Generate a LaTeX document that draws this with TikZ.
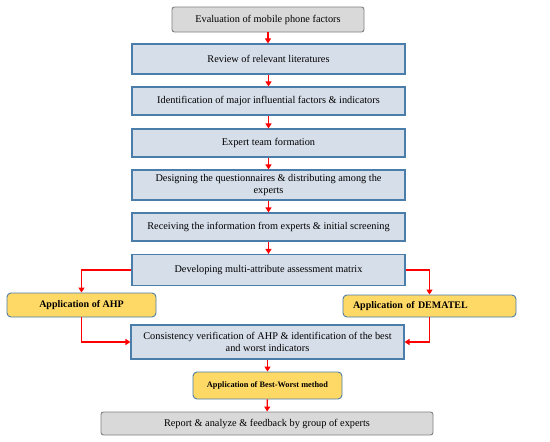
\documentclass[tikz,border=0pt]{standalone}
\usepackage{fontspec}
\setmainfont{Liberation Serif}
\usetikzlibrary{arrows.meta}
\definecolor{stepfill}{HTML}{D6DEE9}
\definecolor{stepline}{HTML}{4A7DAA}
\definecolor{endfill}{HTML}{D9D9D9}
\definecolor{endline}{HTML}{7F7F7F}
\definecolor{methfill}{HTML}{FFD966}
\definecolor{flowred}{HTML}{FF0000}

\begin{document}
\begin{tikzpicture}[x=1pt, y=-1pt,
    stepbox/.style={rectangle, draw=stepline, fill=stepfill, line width=1.1pt, align=center, inner sep=1pt, font=\fontsize{10.3}{12}\selectfont},
    endbox/.style={rectangle, rounded corners=2.5pt, draw=endline, fill=endfill, line width=0.9pt, align=center, inner sep=1pt, font=\fontsize{10.3}{12}\selectfont},
    methbox/.style={rectangle, rounded corners=4pt, draw=stepline, fill=methfill, line width=0.9pt, align=center, inner sep=1pt, font=\bfseries\fontsize{10}{12}\selectfont},
    flow/.style={draw=flowred, line width=1.4pt, -{Triangle[width=6pt,length=5pt]}}]
    \useasboundingbox (0,0) rectangle (550,442);

    \node at (268, 19.5) [endbox, minimum width=192pt, minimum height=25pt] (eval) {Evaluation of mobile phone factors};
    \node at (268.5, 59) [stepbox, minimum width=273pt, minimum height=30pt] (review) {Review of relevant literatures};
    \node at (268.5, 101) [stepbox, minimum width=273pt, minimum height=28pt] (ident) {Identification of major influential factors \& indicators};
    \node at (268.5, 143) [stepbox, minimum width=273pt, minimum height=28pt] (team) {Expert team formation};
    \node at (268.5, 185) [stepbox, minimum width=273pt, minimum height=30pt] (design) {Designing the questionnaires \& distributing among the\\experts};
    \node at (268.5, 227) [stepbox, minimum width=273pt, minimum height=28pt] (receive) {Receiving the information from experts \& initial screening};
    \node at (268.5, 270) [stepbox, minimum width=273pt, minimum height=31pt] (develop) {Developing multi-attribute assessment matrix};
    \node at (81.5, 305) [methbox, minimum width=149pt, minimum height=24pt] (ahp) {Application of AHP};
    \node at (429.5, 306) [methbox, minimum height=22pt, text width=153pt, inner xsep=10pt, align=left] (dematel) {Application of DEMATEL};
    \node at (267.5, 342) [stepbox, minimum width=273pt, minimum height=34pt] (consist) {Consistency verification of AHP \& identification of the best\\and worst indicators};
    \node at (267.5, 385.5) [methbox, minimum width=149pt, minimum height=27pt, font=\bfseries\fontsize{8.3}{10}\selectfont] (bwm) {Application of Best-Worst method};
    \node at (267, 423.5) [endbox, minimum width=332pt, minimum height=23pt] (report) {Report \& analyze \& feedback by group of experts};

    \draw[flow] (eval.south) -- (eval.south |- review.north);
    \draw[flow] (review) -- (ident);
    \draw[flow] (ident) -- (team);
    \draw[flow] (team) -- (design);
    \draw[flow] (design) -- (receive);
    \draw[flow] (receive) -- (develop);
    \draw[flow] (develop.west) -| (ahp.north);
    \draw[flow] (develop.east) -| (dematel.north);
    \draw[flow] (ahp.south) |- (consist.west);
    \draw[flow] (dematel.south) |- (consist.east);
    \draw[flow] (consist) -- (bwm);
    \draw[flow] (bwm) -- (report);
\end{tikzpicture}
\end{document}
